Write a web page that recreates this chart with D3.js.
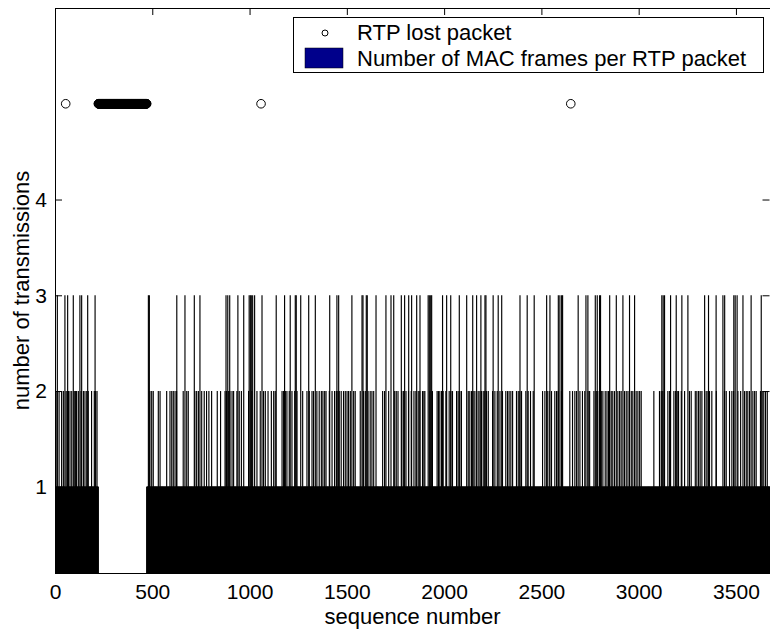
<!DOCTYPE html>
<html>
<head>
<meta charset="utf-8">
<script src="https://cdn.jsdelivr.net/npm/d3@7"></script>
<style>
  body { margin: 0; background: #fff; }
  text { font-family: "Liberation Sans", Arial, sans-serif; fill: #000; }
</style>
</head>
<body>
<svg width="770" height="634"></svg>
<script>
"use strict";

// sequence numbers whose RTP packet needed 3 MAC frames
const threeTx = [12, 51, 65, 94, 128, 137, 168, 206, 480, 485, 626, 668, 716, 745, 879, 888, 898,
    940, 970, 998, 1004, 1009, 1016, 1026, 1064, 1137, 1180, 1209, 1235, 1240, 1263, 1304, 1338,
    1412, 1449, 1458, 1526, 1578, 1583, 1600, 1605, 1650, 1701, 1727, 1741, 1780, 1797, 1818,
    1833, 1859, 1876, 1918, 1924, 1931, 1936, 1992, 2013, 2034, 2078, 2116, 2147, 2167, 2189,
    2210, 2215, 2252, 2278, 2296, 2390, 2427, 2463, 2527, 2544, 2587, 2595, 2604, 2609, 2689,
    2729, 2739, 2777, 2787, 2799, 2804, 2851, 2885, 2919, 2953, 2979, 3119, 3126, 3133, 3164,
    3193, 3222, 3253, 3339, 3359, 3398, 3433, 3442, 3489, 3496, 3506, 3536, 3578, 3630];

// sequence numbers that needed 2 MAC frames
const twoTx = [3, 10, 21, 34, 43, 57, 63, 69, 77, 86, 99, 106, 111, 120, 128, 134, 146, 154, 163,
    171, 188, 202, 209, 216,
    471, 480, 488, 497, 505, 531, 540, 574, 591, 600, 608, 617, 625, 659, 668, 677, 685, 719, 728,
    737, 754, 767, 779, 791, 805, 834, 851, 874, 882, 891, 899, 910, 918, 935, 947, 958, 970, 995,
    1004, 1012, 1026, 1038, 1055, 1064, 1072, 1081, 1095, 1112, 1124, 1132, 1167, 1175, 1184,
    1192, 1204, 1218, 1232, 1244, 1273, 1295, 1307, 1321, 1329, 1338, 1346, 1358, 1369, 1377,
    1386, 1393, 1410, 1424, 1437, 1446, 1454, 1461, 1471, 1483, 1492, 1501, 1509, 1518, 1526,
    1535, 1543, 1569, 1578, 1586, 1595, 1609, 1620, 1629, 1638, 1684, 1694, 1715, 1746, 1754,
    1763, 1783, 1792, 1804, 1817, 1831, 1845, 1855, 1867, 1875, 1889, 1896, 1901, 1918, 1927,
    1940, 1964, 1971, 1978, 1987, 1995, 2009, 2026, 2035, 2043, 2064, 2072, 2081, 2089, 2124,
    2132, 2141, 2149, 2158, 2167, 2175, 2184, 2192, 2201, 2209, 2218, 2227, 2249, 2261, 2273,
    2287, 2300, 2317, 2326, 2334, 2343, 2352, 2372, 2381, 2389, 2398, 2420, 2432, 2444, 2458,
    2506, 2518, 2530, 2540, 2552, 2569, 2578, 2586, 2595, 2603, 2646, 2660, 2672, 2681, 2689,
    2698, 2711, 2723, 2740, 2748, 2770, 2777, 2782, 2790, 2799, 2808, 2816, 2828, 2837, 2845,
    2850, 2859, 2867, 2876, 2885, 2893, 2902, 2910, 2919, 2927, 2936, 2945, 2953, 2962, 2970,
    2979, 2987, 2996, 3005, 3013, 3078, 3107, 3116, 3124, 3133, 3150, 3159, 3181, 3190, 3198,
    3205, 3219, 3236, 3253, 3261, 3270, 3291, 3299, 3308, 3316, 3325, 3339, 3347, 3356, 3364,
    3376, 3399, 3433, 3441, 3450, 3467, 3479, 3488, 3496, 3510, 3524, 3544, 3553, 3561, 3570,
    3578, 3587, 3596, 3604, 3626, 3635, 3643, 3652, 3661];

// lost RTP packets: a few single ones plus one long burst (first..last)
const lostSingle = [55, 1059, 2651];
const lostBurst = [223, 471];
const lastSeq = 3674;   // every other packet took 1 MAC frame

const xTicks = [0, 500, 1000, 1500, 2000, 2500, 3000, 3500];
const yTicks = [1, 2, 3, 4];

window.addEventListener("load", drawChart);

function drawChart() {
    const svg = d3.select("svg");
    const box = {left: 55, right: 770, top: 8, bottom: 573};

    const x = d3.scaleLinear().domain([0, 3675]).range([box.left, box.right]);
    const y = d3.scaleLinear().domain([0.1, 6]).range([box.bottom, box.top]);

    const lost = new Set(lostSingle.concat(d3.range(lostBurst[0], lostBurst[1] + 1)));
    const three = new Set(threeTx), two = new Set(twoTx);
    const counts = d3.range(0, lastSeq + 1).map(s => ({
        seq: s,
        n: lost.has(s) ? 0 : three.has(s) ? 3 : two.has(s) ? 2 : 1
    })).filter(d => d.n > 0);

    svg.append("clipPath").attr("id", "plot")
      .append("rect")
        .attr("x", box.left).attr("y", box.top)
        .attr("width", box.right - box.left).attr("height", box.bottom - box.top);

    const plot = svg.append("g").attr("clip-path", "url(#plot)");

    // one thin bar per packet, MATLAB style (black edges)
    plot.selectAll("line.bar")
      .data(counts)
      .join("line")
        .attr("class", "bar")
        .attr("x1", d => x(d.seq)).attr("x2", d => x(d.seq))
        .attr("y1", y(0.1)).attr("y2", d => y(d.n))
        .attr("stroke", "#000")
        .attr("stroke-width", 1.15);

    // lost packets drawn as open circles at height 5
    plot.selectAll("circle.lost")
      .data(Array.from(lost).sort((a, b) => a - b))
      .join("circle")
        .attr("class", "lost")
        .attr("cx", d => x(d)).attr("cy", y(5))
        .attr("r", 4.3)
        .attr("fill", "none")
        .attr("stroke", "#000")
        .attr("stroke-width", 1);

    // axes, ticks pointing inward
    const bottom = svg.append("g")
        .attr("transform", `translate(0,${box.bottom})`)
        .call(d3.axisBottom(x).tickValues(xTicks).tickFormat(d3.format("d")).tickSize(-7).tickPadding(11));
    const top = svg.append("g")
        .attr("transform", `translate(0,${box.top})`)
        .call(d3.axisTop(x).tickValues(xTicks).tickFormat("").tickSize(-7));
    const left = svg.append("g")
        .attr("transform", `translate(${box.left},0)`)
        .call(d3.axisLeft(y).tickValues(yTicks).tickFormat(d3.format("d")).tickSize(-7).tickPadding(8));
    const right = svg.append("g")
        .attr("transform", `translate(${box.right - 0.5},0)`)
        .call(d3.axisRight(y).tickValues(yTicks).tickFormat("").tickSize(-7));

    [bottom, top, left, right].forEach(g => {
        g.select(".domain").remove();
        g.selectAll("line").attr("stroke", "#000");
        g.selectAll("text").attr("font-size", 21).attr("font-family", "Liberation Sans, Arial, sans-serif");
    });

    // frame
    svg.append("rect")
        .attr("x", box.left + 0.5).attr("y", box.top + 0.5)
        .attr("width", box.right - box.left).attr("height", box.bottom - box.top)
        .attr("fill", "none").attr("stroke", "#000").attr("stroke-width", 1);

    svg.append("text")
        .attr("x", (box.left + box.right) / 2).attr("y", 624)
        .attr("text-anchor", "middle").attr("font-size", 22)
        .text("sequence number");

    svg.append("text")
        .attr("transform", `translate(29,${(box.top + box.bottom) / 2}) rotate(-90)`)
        .attr("text-anchor", "middle").attr("font-size", 22)
        .text("number of transmissions");

    // legend
    const lg = svg.append("g");
    lg.append("rect")
        .attr("x", 293.5).attr("y", 17.5).attr("width", 470).attr("height", 55)
        .attr("fill", "#fff").attr("stroke", "#000");
    lg.append("circle")
        .attr("cx", 325).attr("cy", 33).attr("r", 3)
        .attr("fill", "none").attr("stroke", "#000");
    lg.append("rect")
        .attr("x", 305).attr("y", 48).attr("width", 38).attr("height", 20)
        .attr("fill", "#00008b").attr("stroke", "#000").attr("stroke-width", 0.5);
    lg.append("text").attr("x", 357).attr("y", 40).attr("font-size", 22).text("RTP lost packet");
    lg.append("text").attr("x", 357).attr("y", 66).attr("font-size", 22).text("Number of MAC frames per RTP packet");
}
</script>
</body>
</html>
